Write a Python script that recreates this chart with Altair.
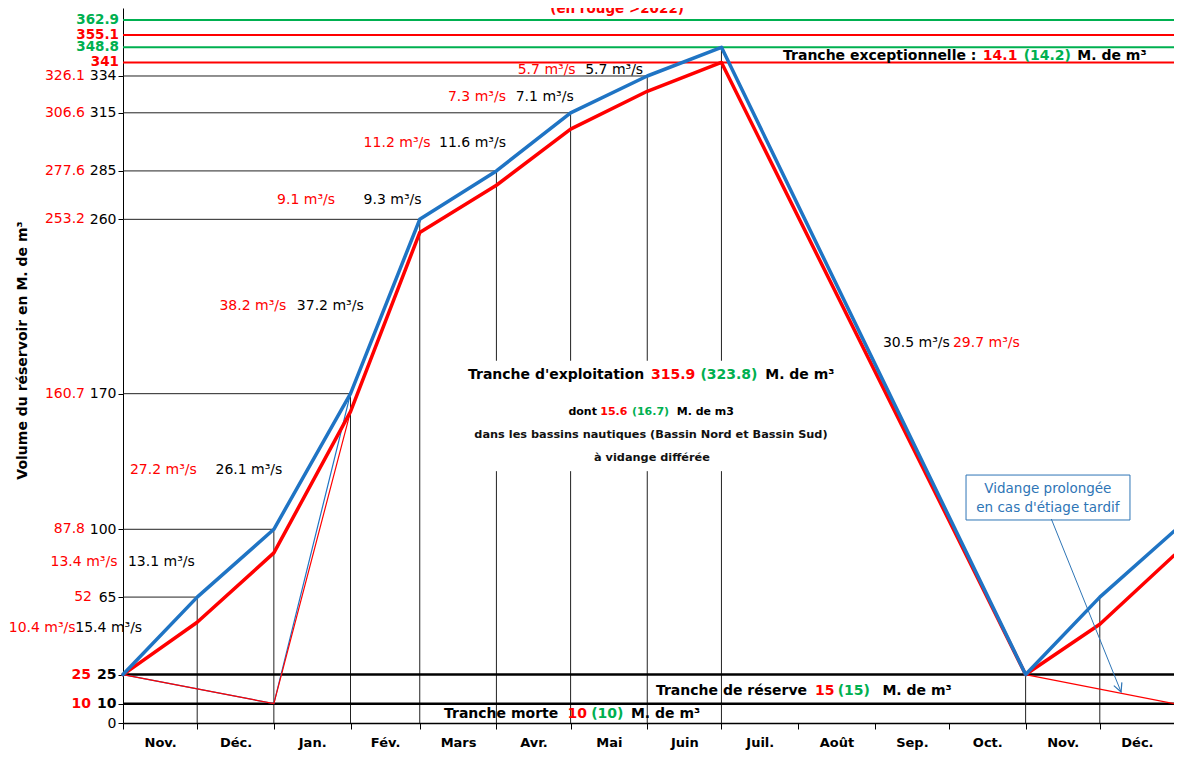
import altair as alt
import pandas as pd

# ---------------- data ----------------
month_names = ["Nov.", "Déc.", "Jan.", "Fév.", "Mars", "Avr.", "Mai", "Juin",
               "Juil.", "Août", "Sep.", "Oct.", "Nov.", "Déc."]
month_starts = [0, 30, 61, 92, 120, 151, 181, 212, 242, 273, 304, 334, 365, 395]
axis_end = 425
y_top = 369.1

curve_days = [0, 30, 61, 92, 120, 151, 181, 212, 242, 365, 395, 425]
blue_volume = [25, 65, 100, 170, 260, 285, 315, 334, 348.8, 25, 65, 99]
red_volume = [25, 52, 87.8, 160.7, 253.2, 277.6, 306.6, 326.1, 341, 25, 51, 86.5]

thin_days = [0, 61, 92]
thin_blue = [25, 10, 170]
thin_red = [25, 10, 160.7]
late_days = [365, 425]
late_red = [25, 10]

ref_levels = [65, 100, 170, 260, 285, 315, 334]
ref_level_days = [30, 61, 92, 120, 151, 181, 212]

drop_days = [30, 61, 92, 120, 151, 181, 212, 242, 365, 395]
drop_tops = [65, 100, 170, 260, 285, 315, 334, 348.8, 25, 65]
gap_days = [151, 181, 212, 242]
gap_low, gap_high = 130, 187

limit_levels = [362.9, 355.1, 348.8, 341]
limit_series = ["vert", "apres", "vert", "apres"]
limit_texts = ["362.9", "355.1", "348.8", "341"]
tranche_levels = [25, 10]

y_tick_values = [0, 10, 25, 65, 100, 170, 260, 285, 315, 334]
red3_levels = [334, 315, 285, 260, 170, 100]
red3_texts = ["326.1", "306.6", "277.6", "253.2", "160.7", "87.8"]
red2_levels = [65]
red2_texts = ["52"]
redb_levels = [25, 10]
redb_texts = ["25", "10"]

flow_days = [-46.2, -19.3, -29.3, 2.0, 2.8, 37.4, 39.0, 70.3, 62.3, 97.3,
             97.3, 127.8, 131.4, 158.8, 159.6, 186.9, 307.3, 335.6]
flow_vols = [49.0, 49.0, 83.1, 83.1, 130.6, 130.6, 215.3, 215.3, 270.0, 270.0,
             299.4, 299.4, 323.2, 323.2, 337.1, 337.1, 196.2, 196.2]
flow_texts = ["10.4 m³/s", "15.4 m³/s", "13.4 m³/s", "13.1 m³/s", "27.2 m³/s",
              "26.1 m³/s", "38.2 m³/s", "37.2 m³/s", "9.1 m³/s", "9.3 m³/s",
              "11.2 m³/s", "11.6 m³/s", "7.3 m³/s", "7.1 m³/s", "5.7 m³/s",
              "5.7 m³/s", "30.5 m³/s", "29.7 m³/s"]
flow_series = ["apres", "avant"] * 8 + ["avant", "apres"]

b14_days = [266.9, 347.7, 364.2, 385.9, 215.5, 279.8, 289.0, 307.1,
            129.8, 179.7, 189.3, 205.4]
b14_vols = [344.3] * 4 + [16.5] * 4 + [4.7] * 4
b14_texts = ["Tranche exceptionnelle :", "14.1", "(14.2)", "M. de m³",
             "Tranche de réserve", "15", "(15)", "M. de m³",
             "Tranche morte", "10", "(10)", "M. de m³"]
b14_series = ["avant", "apres", "vert", "avant"] * 3

b13_days = [139.5, 213.5, 233.5, 259.7]
b13_vols = [179.7] * 4
b13_texts = ["Tranche d'exploitation", "315.9", "(323.8)", "M. de m³"]
b13_series = ["avant", "apres", "vert", "avant"]

s_days = [180.1, 193.0, 205.8, 223.9]
s_vols = [160.6] * 4
s_texts = ["dont", "15.6", "(16.7)", "M. de m3"]
s_series = ["avant", "apres", "vert", "avant"]

c_days = [213.5, 213.9]
c_vols = [148.7, 136.8]
c_texts = ["dans les bassins nautiques (Bassin Nord et Bassin Sud)", "à vidange différée"]

box_x, box_x2, box_y, box_y2 = 340.9, 407.2, 128.0, 104.8
box_text_days = [374.0, 374.0]
box_text_vols = [120.8, 111.0]
box_texts = ["Vidange prolongée", "en cas d'étiage tardif"]
arrow_days = [375.4, 403.6]
arrow_vols = [105.3, 16.0]

title_text = "(en rouge >2022)"
title_pos = (199.8, 366.5)

BLUE = "#1F74C4"
BOX_BLUE = "#2E75B6"
series_domain = ["avant", "apres", "vert"]
series_range = ["#000000", "#FF0000", "#00B050"]
FONT = "DejaVu Sans"

# ---------------- scales / axes ----------------
month_ends = month_starts[1:] + [axis_end]
mids = [(s + e) / 2 for s, e in zip(month_starts, month_ends)]
label_expr = "''"
for m, name in reversed(list(zip(mids, month_names))):
    label_expr = f"datum.value == {m} ? '{name}' : ({label_expr})"
tick_test = "indexof([" + ",".join(str(v) for v in month_starts) + "], datum.value) >= 0"

x_scale = alt.Scale(domain=[0, axis_end], nice=False, zero=False)
y_scale = alt.Scale(domain=[0, y_top], nice=False, zero=False)
color_scale = alt.Scale(domain=series_domain, range=series_range)

x_axis = alt.Axis(
    values=sorted(month_starts + mids), labelExpr=label_expr,
    tickOpacity={"condition": {"test": tick_test, "value": 1}, "value": 0},
    tickSize=6, tickColor="black", tickWidth=1, labelPadding=7,
    labelFontSize=13, labelFontWeight="bold", labelFont=FONT, labelColor="black",
    domainColor="black", domainWidth=1.5, grid=False, title=None,
    labelOverlap=False, labelFlush=False, labelBound=False)

y_axis = alt.Axis(
    values=y_tick_values, labelFontSize=14, labelFont=FONT, labelColor="black",
    labelFontWeight={"condition": {"test": "datum.value == 25 || datum.value == 10",
                                   "value": "bold"}, "value": "normal"},
    tickSize=5, tickColor="black", labelPadding=2, domainColor="black",
    domainWidth=1, grid=False, title="Volume du réservoir en M. de m³",
    titleFont=FONT, titleFontSize=14, titleFontWeight="bold", titleColor="black",
    titleAngle=270, titleX=-101, titleY=342, titleAlign="center",
    titleBaseline="middle", labelOverlap=False, labelFlush=False)


def X(f="x"):
    return alt.X(f"{f}:Q", scale=x_scale, axis=x_axis)


def Y(f="y"):
    return alt.Y(f"{f}:Q", scale=y_scale, axis=y_axis)


COLOR = alt.Color("s:N", scale=color_scale, legend=None)

# ---------------- frames ----------------
hline_df = pd.DataFrame({"x": [0] * len(ref_levels), "x2": ref_level_days, "y": ref_levels})

drop_rows = []
for d, t in zip(drop_days, drop_tops):
    if d in gap_days:
        drop_rows.append({"x": d, "y": 0, "y2": gap_low})
        drop_rows.append({"x": d, "y": gap_high, "y2": t})
    else:
        drop_rows.append({"x": d, "y": 0, "y2": t})
drop_df = pd.DataFrame(drop_rows)

limit_df = pd.DataFrame({"x": [0] * 4, "x2": [axis_end] * 4, "y": limit_levels,
                         "s": limit_series, "t": limit_texts})
tranche_df = pd.DataFrame({"x": [0] * 2, "x2": [axis_end] * 2, "y": tranche_levels})

blue_df = pd.DataFrame({"x": curve_days, "y": blue_volume})
red_df = pd.DataFrame({"x": curve_days, "y": red_volume})
thin_blue_df = pd.DataFrame({"x": thin_days, "y": thin_blue})
thin_red_df = pd.DataFrame({"x": thin_days + late_days, "y": thin_red + late_red,
                            "g": ["a"] * 3 + ["b"] * 2})

# ---------------- layers ----------------
layers = []

layers.append(alt.Chart(hline_df).mark_rule(color="#222", strokeWidth=1).encode(
    x=X(), x2="x2:Q", y=Y()))
layers.append(alt.Chart(drop_df).mark_rule(color="#222", strokeWidth=1).encode(
    x=X(), y=Y(), y2="y2:Q"))
layers.append(alt.Chart(tranche_df).mark_rule(color="black", strokeWidth=2.5).encode(
    x=X(), x2="x2:Q", y=Y()))
layers.append(alt.Chart(limit_df).mark_rule(strokeWidth=2).encode(
    x=X(), x2="x2:Q", y=Y(), color=COLOR))

layers.append(alt.Chart(thin_blue_df).mark_line(color=BLUE, strokeWidth=1.2).encode(
    x=X(), y=Y()))
layers.append(alt.Chart(thin_red_df).mark_line(color="#FF0000", strokeWidth=1.2).encode(
    x=X(), y=Y(), detail="g:N"))
layers.append(alt.Chart(red_df).mark_line(color="#FF0000", strokeWidth=3.5,
                                          strokeCap="round", strokeJoin="round").encode(
    x=X(), y=Y()))
layers.append(alt.Chart(blue_df).mark_line(color=BLUE, strokeWidth=3.5,
                                           strokeCap="round", strokeJoin="round").encode(
    x=X(), y=Y()))

# callout box + arrow
box_df = pd.DataFrame({"x": [box_x], "x2": [box_x2], "y": [box_y], "y2": [box_y2]})
layers.append(alt.Chart(box_df).mark_rect(fill="white", stroke=BOX_BLUE, strokeWidth=1).encode(
    x=X(), x2="x2:Q", y=Y(), y2="y2:Q"))
box_txt_df = pd.DataFrame({"x": box_text_days, "y": box_text_vols, "t": box_texts})
layers.append(alt.Chart(box_txt_df).mark_text(font=FONT, fontSize=13.5, color=BOX_BLUE,
                                              align="center", baseline="middle").encode(
    x=X(), y=Y(), text="t:N"))
arrow_df = pd.DataFrame({"x": arrow_days, "y": arrow_vols})
layers.append(alt.Chart(arrow_df).mark_line(color=BOX_BLUE, strokeWidth=1).encode(
    x=X(), y=Y()))
layers.append(alt.Chart(arrow_df.iloc[[1]]).mark_point(
    shape="M-0.5,1L0,0L0.5,1", angle=158, size=300, filled=False,
    color=BOX_BLUE, strokeWidth=1.2, opacity=1).encode(x=X(), y=Y()))

# flow labels
flow_df = pd.DataFrame({"x": flow_days, "y": flow_vols, "t": flow_texts, "s": flow_series})
layers.append(alt.Chart(flow_df).mark_text(font=FONT, fontSize=14, align="left",
                                           baseline="middle").encode(
    x=X(), y=Y(), text="t:N", color=COLOR))

# bold annotations
b14_df = pd.DataFrame({"x": b14_days, "y": b14_vols, "t": b14_texts, "s": b14_series})
layers.append(alt.Chart(b14_df).mark_text(font=FONT, fontSize=14, fontWeight="bold",
                                          align="left", baseline="middle").encode(
    x=X(), y=Y(), text="t:N", color=COLOR))
b13_df = pd.DataFrame({"x": b13_days, "y": b13_vols, "t": b13_texts, "s": b13_series})
layers.append(alt.Chart(b13_df).mark_text(font=FONT, fontSize=14, fontWeight="bold",
                                          align="left", baseline="middle").encode(
    x=X(), y=Y(), text="t:N", color=COLOR))
s_df = pd.DataFrame({"x": s_days, "y": s_vols, "t": s_texts, "s": s_series})
layers.append(alt.Chart(s_df).mark_text(font=FONT, fontSize=11, fontWeight="bold",
                                        align="left", baseline="middle").encode(
    x=X(), y=Y(), text="t:N", color=COLOR))
c_df = pd.DataFrame({"x": c_days, "y": c_vols, "t": c_texts})
layers.append(alt.Chart(c_df).mark_text(font=FONT, fontSize=11.3, fontWeight="bold",
                                        align="center", baseline="middle", color="#111").encode(
    x=X(), y=Y(), text="t:N"))

# left-side labels
r3_df = pd.DataFrame({"x": [0] * len(red3_levels), "y": red3_levels, "t": red3_texts})
layers.append(alt.Chart(r3_df).mark_text(font=FONT, fontSize=14, align="right",
                                         baseline="middle", dx=-38, color="#FF0000").encode(
    x=X(), y=Y(), text="t:N"))
r2_df = pd.DataFrame({"x": [0] * len(red2_levels), "y": red2_levels, "t": red2_texts})
layers.append(alt.Chart(r2_df).mark_text(font=FONT, fontSize=14, align="right",
                                         baseline="middle", dx=-31, color="#FF0000").encode(
    x=X(), y=Y(), text="t:N"))
rb_df = pd.DataFrame({"x": [0] * len(redb_levels), "y": redb_levels, "t": redb_texts})
layers.append(alt.Chart(rb_df).mark_text(font=FONT, fontSize=14, fontWeight="bold",
                                         align="right", baseline="middle", dx=-32,
                                         color="#FF0000").encode(
    x=X(), y=Y(), text="t:N"))
layers.append(alt.Chart(limit_df).mark_text(font=FONT, fontSize=13.5, fontWeight="bold",
                                            align="right", baseline="middle", dx=-4).encode(
    x=X("x"), y=Y(), text="t:N", color=COLOR))

# title fragment at the top
title_df = pd.DataFrame({"x": [title_pos[0]], "y": [title_pos[1]], "t": [title_text]})
layers.append(alt.Chart(title_df).mark_text(font=FONT, fontSize=13.5, fontWeight="bold",
                                            align="center", baseline="alphabetic",
                                            color="#FF0000").encode(
    x=X(), y=Y(), text="t:N"))

chart = alt.layer(*layers).properties(
    width=1051, height=715,
    autosize=alt.AutoSizeParams(type="none"),
    padding={"left": 115, "top": 0, "right": 0, "bottom": 31},
    background="white",
).configure_view(strokeWidth=0)

chart.save("out.html", embed_options={"renderer": "svg", "actions": False})
